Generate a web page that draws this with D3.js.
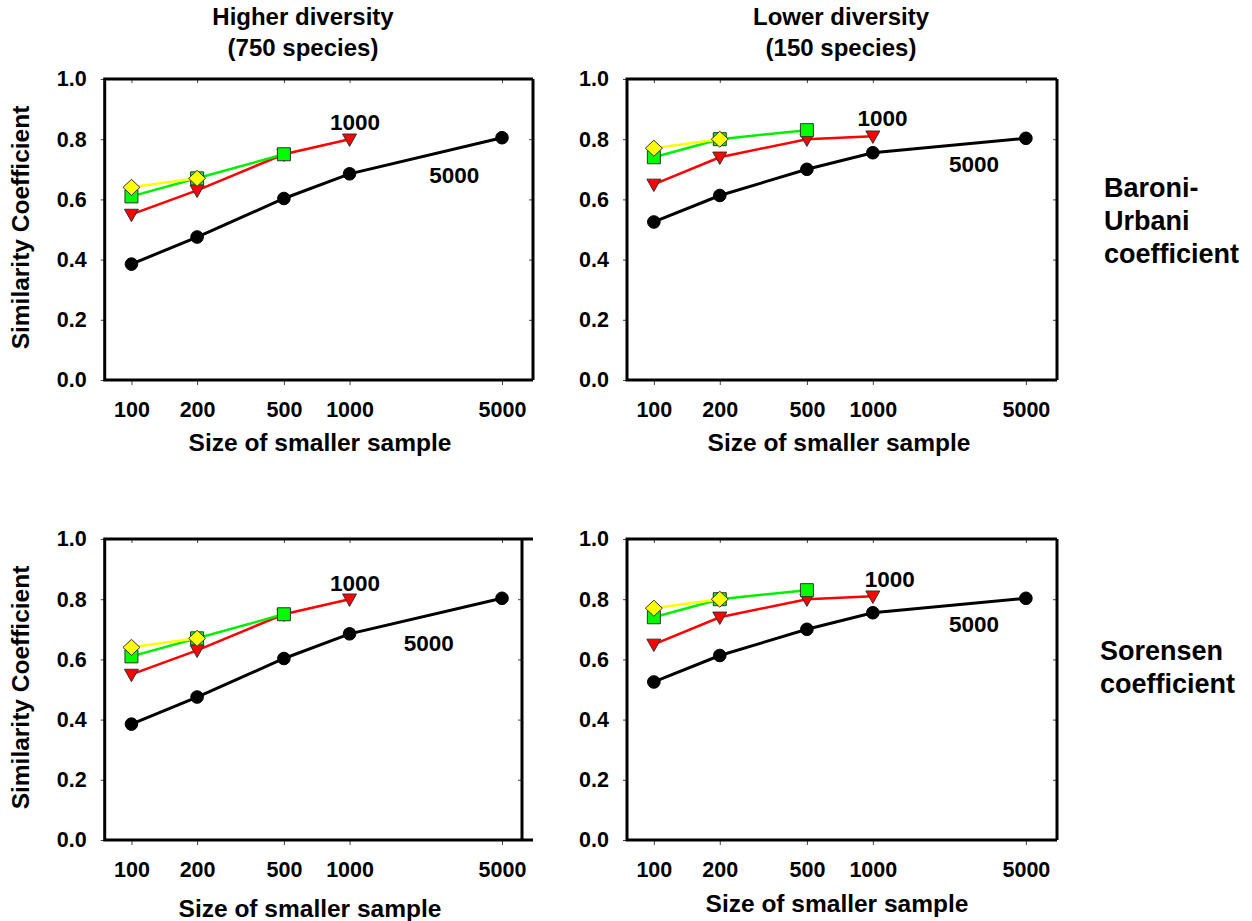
<!DOCTYPE html>
<html>
<head>
<meta charset="utf-8">
<script src="https://cdn.jsdelivr.net/npm/d3@7"></script>
<style>
  body { margin: 0; background: #fff; }
  text { font-family: "Liberation Sans", Arial, sans-serif; font-weight: bold; fill: #000; }
</style>
</head>
<body>
<script>
const W = 1252
const H = 921

// sample sizes (x axis) and y ticks
const sizes = [100, 200, 500, 1000, 5000]
const yTicks = [0, 0.2, 0.4, 0.6, 0.8, 1.0]

// Baroni-Urbani, higher diversity (750 species)
const buHigh5000 = [0.385, 0.475, 0.603, 0.685, 0.805]
const buHigh1000 = [0.55, 0.63, 0.75, 0.80]
const buHigh500 = [0.61, 0.67, 0.75]
const buHigh200 = [0.64, 0.67]
// Baroni-Urbani, lower diversity (150 species)
const buLow5000 = [0.525, 0.613, 0.70, 0.755, 0.803]
const buLow1000 = [0.65, 0.74, 0.80, 0.81]
const buLow500 = [0.74, 0.80, 0.83]
const buLow200 = [0.77, 0.80]
// Sorensen, higher diversity
const sorHigh5000 = [0.385, 0.475, 0.603, 0.685, 0.803]
const sorHigh1000 = [0.55, 0.63, 0.75, 0.80]
const sorHigh500 = [0.61, 0.67, 0.75]
const sorHigh200 = [0.64, 0.67]
// Sorensen, lower diversity
const sorLow5000 = [0.525, 0.613, 0.70, 0.755, 0.803]
const sorLow1000 = [0.65, 0.74, 0.80, 0.81]
const sorLow500 = [0.74, 0.80, 0.83]
const sorLow200 = [0.77, 0.80]

const seriesNames = ['5000', '1000', '500', '200']

const svg = d3.select('body').append('svg')
  .attr('width', W)
  .attr('height', H)

// symbol for each series
const style = {
  '5000': { line: '#000', width: 3, fill: '#000', stroke: '#000', shape: d3.symbolCircle, size: 125 },
  '1000': { line: '#ff0000', width: 2.5, fill: '#ff0000', stroke: '#333', shape: 'tri', size: 0 },
  '500': { line: '#00ee00', width: 2.5, fill: '#00ff00', stroke: '#333', shape: d3.symbolSquare, size: 169 },
  '200': { line: '#ffff00', width: 2.5, fill: '#ffff00', stroke: '#333', shape: 'diamond', size: 0 }
}

const panels = [
  { left: 104.7, right: 533, top: 79, bottom: 380, rightLine: 533, ylabel: true,
    data: [buHigh5000, buHigh1000, buHigh500, buHigh200],
    lab1000: [1060, 0.83], lab5000: [3020, 0.653] },
  { left: 627, right: 1057, top: 79, bottom: 380, rightLine: 1057, ylabel: false,
    data: [buLow5000, buLow1000, buLow500, buLow200],
    lab1000: [1107, 0.843], lab5000: [2900, 0.69] },
  { left: 104.7, right: 533, top: 539, bottom: 840, rightLine: 522, ylabel: true,
    data: [sorHigh5000, sorHigh1000, sorHigh500, sorHigh200],
    lab1000: [1060, 0.828], lab5000: [2306, 0.629] },
  { left: 627, right: 1057, top: 539, bottom: 840, rightLine: 1057, ylabel: false,
    data: [sorLow5000, sorLow1000, sorLow500, sorLow200],
    lab1000: [1194, 0.842], lab5000: [2900, 0.69] }
]

// x title positions differ slightly per panel
const xTitlePos = [[320, 451], [839, 451], [310, 917], [837, 912]]

const drawMarker = (g, shape, size, x, y, st) => {
  if (shape === 'tri') {
    g.append('path')
      .attr('d', `M${x - 7},${y - 5.2} L${x + 7},${y - 5.2} L${x},${y + 7.2} Z`)
      .attr('fill', st.fill).attr('stroke', st.stroke).attr('stroke-width', 1)
  } else if (shape === 'diamond') {
    g.append('path')
      .attr('d', `M${x},${y - 8} L${x + 8.5},${y} L${x},${y + 8} L${x - 8.5},${y} Z`)
      .attr('fill', st.fill).attr('stroke', st.stroke).attr('stroke-width', 1)
  } else {
    g.append('path')
      .attr('transform', `translate(${x},${y})`)
      .attr('d', d3.symbol().type(shape).size(size)())
      .attr('fill', st.fill).attr('stroke', st.stroke).attr('stroke-width', 1)
  }
}

panels.forEach((p, i) => {
  const x = d3.scaleLog().domain([75.4, 6935]).range([p.left, p.right])
  const y = d3.scaleLinear().domain([0, 1]).range([p.bottom, p.top])
  const g = svg.append('g')

  // y axis ticks + labels (outside left)
  g.append('g')
    .attr('transform', `translate(${p.left},0)`)
    .call(d3.axisLeft(y).tickValues(yTicks).tickFormat(d3.format('.1f')).tickSize(4).tickPadding(14))
  // x axis ticks + labels (outside bottom)
  g.append('g')
    .attr('transform', `translate(0,${p.bottom})`)
    .call(d3.axisBottom(x).tickValues(sizes).tickFormat(d3.format('d')).tickSize(5).tickPadding(17))
  // inner ticks on top and right
  g.append('g')
    .attr('transform', `translate(0,${p.top})`)
    .call(d3.axisBottom(x).tickValues(sizes).tickFormat('').tickSize(4))
  g.append('g')
    .attr('transform', `translate(${p.rightLine},0)`)
    .call(d3.axisLeft(y).tickValues(yTicks).tickFormat('').tickSize(4))

  g.selectAll('.domain').remove()
  g.selectAll('.tick line').attr('stroke', '#444').attr('stroke-width', 1)
  g.selectAll('.tick text').attr('font-size', 21.5).attr('fill', '#000')
    .attr('font-family', '"Liberation Sans", Arial, sans-serif').attr('font-weight', 'bold')

  // frame
  g.append('path')
    .attr('d', `M${p.right},${p.top} L${p.left},${p.top} L${p.left},${p.bottom} L${p.right},${p.bottom}`)
    .attr('fill', 'none').attr('stroke', '#000').attr('stroke-width', 3)
  g.append('line')
    .attr('x1', p.rightLine).attr('x2', p.rightLine).attr('y1', p.top).attr('y2', p.bottom)
    .attr('stroke', '#000').attr('stroke-width', 3)

  // series
  const line = d3.line().x(d => x(d[0])).y(d => y(d[1]))
  p.data.forEach((vals, k) => {
    const st = style[seriesNames[k]]
    const pts = vals.map((v, j) => [sizes[j], v])
    g.append('path')
      .attr('d', line(pts))
      .attr('fill', 'none')
      .attr('stroke', st.line)
      .attr('stroke-width', st.width)
    pts.forEach(d => drawMarker(g, st.shape, st.size, x(d[0]), y(d[1]), st))
  })

  // series labels
  g.append('text')
    .attr('x', x(p.lab1000[0])).attr('y', y(p.lab1000[1]))
    .attr('text-anchor', 'middle').attr('font-size', 22.5)
    .text('1000')
  g.append('text')
    .attr('x', x(p.lab5000[0])).attr('y', y(p.lab5000[1]))
    .attr('text-anchor', 'middle').attr('font-size', 22.5)
    .text('5000')

  // x axis title
  g.append('text')
    .attr('x', xTitlePos[i][0]).attr('y', xTitlePos[i][1])
    .attr('text-anchor', 'middle').attr('font-size', 24.5)
    .text('Size of smaller sample')

  if (p.ylabel) {
    const cy = (p.top + p.bottom) / 2 - 2
    g.append('text')
      .attr('transform', `translate(29,${cy}) rotate(-90)`)
      .attr('text-anchor', 'middle').attr('font-size', 24.5)
      .text('Similarity Coefficient')
  }
})

// column titles
const colTitles = [
  { x: 303, lines: ['Higher diversity', '(750 species)'] },
  { x: 841, lines: ['Lower diversity', '(150 species)'] }
]
colTitles.forEach(c => {
  c.lines.forEach((t, j) => {
    svg.append('text')
      .attr('x', c.x).attr('y', 25 + j * 30.5)
      .attr('text-anchor', 'middle').attr('font-size', 24)
      .text(t)
  })
})

// row titles
const rowTitles = [
  { x: 1104, y: 197, lines: ['Baroni-', 'Urbani', 'coefficient'] },
  { x: 1100, y: 660, lines: ['Sorensen', 'coefficient'] }
]
rowTitles.forEach(r => {
  r.lines.forEach((t, j) => {
    svg.append('text')
      .attr('x', r.x).attr('y', r.y + j * 33)
      .attr('font-size', 27)
      .text(t)
  })
})
</script>
</body>
</html>
